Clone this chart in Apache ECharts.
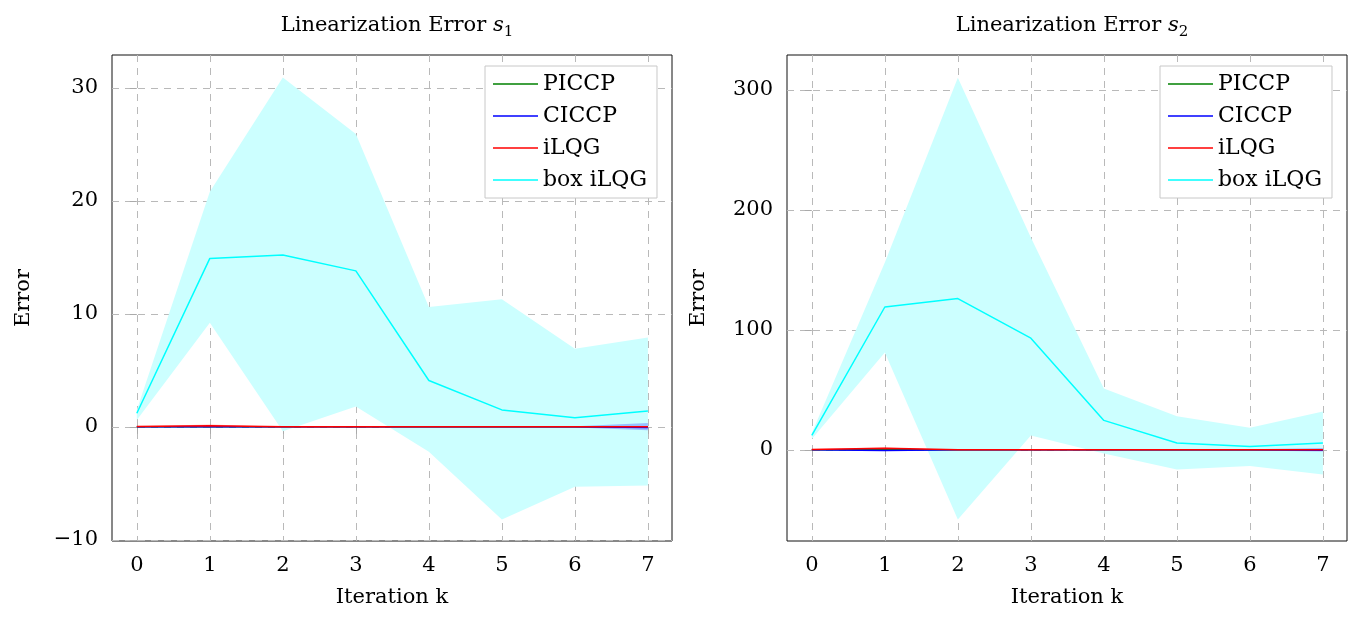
<!DOCTYPE html>
<html>
<head>
<meta charset="utf-8">
<script src="https://cdn.jsdelivr.net/npm/echarts@6/dist/echarts.min.js"></script>
<style>
  html, body { margin: 0; padding: 0; background: #fff; }
  #chart { width: 1354px; height: 617px; }
</style>
</head>
<body>
<div id="chart"></div>
<script>
// iterations
const iterations = [0, 1, 2, 3, 4, 5, 6, 7];
const seriesNames = ['PICCP', 'CICCP', 'iLQG', 'box iLQG'];

// s1 plot
const s1Piccp = [0, 0, 0, 0, 0, 0, 0, 0];
const s1Ciccp = [0, 0, 0, 0, 0, 0, 0, -0.05];
const s1Ilqg = [0.02, 0.1, 0, 0, 0, 0, 0, 0];
const s1Box = [1.2, 14.9, 15.2, 13.8, 4.1, 1.5, 0.8, 1.4];
const s1BoxLower = [0.6, 9.2, -0.4, 1.8, -2.2, -8.2, -5.3, -5.2];
const s1BoxUpper = [1.5, 20.8, 30.9, 25.9, 10.6, 11.3, 6.9, 7.9];
const s1CiccpLower = [0, 0, 0, 0, 0, 0, -0.05, -0.3];
const s1CiccpUpper = [0, 0, 0, 0, 0, 0, 0.05, 0.35];
const s1IlqgLower = [0, 0, 0, 0, 0, 0, 0, 0];
const s1IlqgUpper = [0.05, 0.2, 0, 0, 0, 0, 0, 0];

// s2 plot
const s2Piccp = [0, 0, 0, 0, 0, 0, 0, 0];
const s2Ciccp = [0, -0.5, 0, 0, 0, 0, 0, -0.3];
const s2Ilqg = [0.3, 1.2, 0, 0, 0, 0, 0, 0];
const s2Box = [12, 119, 126, 93, 24.5, 5.6, 2.8, 5.6];
const s2BoxLower = [9, 81, -58, 12, -3, -16.4, -13.4, -20.6];
const s2BoxUpper = [14, 156, 310, 177, 51, 28, 18.4, 32];
const s2CiccpLower = [0, -1, 0, 0, 0, 0, -0.5, -1.5];
const s2CiccpUpper = [0, 0.5, 0, 0, 0, 0, 0.5, 1.5];
const s2IlqgLower = [0, 0, 0, 0, 0, 0, 0, 0];
const s2IlqgUpper = [0.6, 2, 0, 0, 0, 0, 0, 0];

const s1YTicks = [-10, 0, 10, 20, 30];
const s2YTicks = [0, 100, 200, 300];

const colors = { PICCP: '#008000', CICCP: '#0000ff', iLQG: '#ff0000', 'box iLQG': '#00ffff' };
const FONT = 'DejaVu Serif';
const FS = 21;

const chart = echarts.init(document.getElementById('chart'));

const pairs = arr => arr.map((v, i) => [iterations[i], v]);

// shaded min/max band, drawn as one polygon through the axis scales
function band(gridIdx, lower, upper, fill) {
  return {
    name: 'band', type: 'custom', xAxisIndex: gridIdx, yAxisIndex: gridIdx,
    silent: true, z: 1,
    data: iterations.map((x, i) => [x, lower[i], upper[i]]),
    renderItem: function (params, api) {
      if (params.dataIndexInside !== 0) return;
      const n = params.dataInsideLength;
      const top = [], bottom = [];
      for (let i = 0; i < n; i++) {
        top.push(api.coord([api.value(0, i), api.value(2, i)]));
        bottom.unshift(api.coord([api.value(0, i), api.value(1, i)]));
      }
      return {
        type: 'polygon',
        shape: { points: top.concat(bottom) },
        style: { fill: fill }
      };
    }
  };
}

function line(name, gridIdx, values) {
  return {
    name: name, type: 'line', xAxisIndex: gridIdx, yAxisIndex: gridIdx,
    symbol: 'none', data: pairs(values), z: 3,
    lineStyle: { color: colors[name], width: 1.5 },
    itemStyle: { color: colors[name] }
  };
}

const tickFmt = v => (v < 0 ? '\u2212' + Math.abs(v) : String(v));

function xAxis(gridIdx) {
  return {
    type: 'value', gridIndex: gridIdx, min: -0.34, max: 7.33,
    name: 'Iteration k', nameLocation: 'middle', nameGap: 46,
    nameTextStyle: { fontFamily: FONT, fontSize: FS, color: '#000' },
    axisLine: { show: false },
    axisTick: { show: true, length: 7, customValues: iterations, lineStyle: { color: '#aaa' } },
    axisLabel: { customValues: iterations, margin: 14, fontFamily: FONT, fontSize: FS, color: '#000' },
    splitLine: { show: true, lineStyle: { color: '#b9b9b9', type: [7, 6], width: 1 } }
  };
}

function yAxis(gridIdx, min, max, ticks) {
  return {
    type: 'value', gridIndex: gridIdx, min: min, max: max,
    name: 'Error', nameLocation: 'middle', nameGap: 78,
    nameTextStyle: { fontFamily: FONT, fontSize: FS, color: '#000' },
    axisLine: { show: false },
    axisTick: { show: true, length: 7, customValues: ticks, lineStyle: { color: '#aaa' } },
    axisLabel: { customValues: ticks, margin: 14, fontFamily: FONT, fontSize: FS, color: '#000', formatter: tickFmt },
    splitLine: { show: true, lineStyle: { color: '#b9b9b9', type: [7, 6], width: 1 } }
  };
}

function title(sub, centerX) {
  return {
    text: '{n|Linearization Error }{i|s}{sub|' + sub + '}',
    left: centerX, top: 7, textAlign: 'center',
    textStyle: {
      fontWeight: 'normal',
      rich: {
        n: { fontFamily: FONT, fontSize: 21, fontWeight: 'normal', color: '#000', lineHeight: 28 },
        i: { fontFamily: FONT, fontSize: 21, fontWeight: 'normal', fontStyle: 'italic', color: '#000', lineHeight: 28 },
        sub: { fontFamily: FONT, fontSize: 15, fontWeight: 'normal', color: '#000', verticalAlign: 'bottom', lineHeight: 15 }
      }
    }
  };
}

function legend(left) {
  return {
    data: seriesNames, orient: 'vertical', left: left, top: 66,
    icon: 'rect', itemWidth: 45, itemHeight: 1.5, itemGap: 10,
    padding: [7, 10, 7, 8],
    borderColor: '#c8c8c8', borderWidth: 1, backgroundColor: '#fff',
    textStyle: { fontFamily: FONT, fontSize: 22, color: '#000' },
    selectedMode: false
  };
}

const option = {
  animation: false,
  backgroundColor: '#fff',
  title: [title('1', 392), title('2', 1067)],
  legend: [legend(485), legend(1160)],
  grid: [
    { left: 112, top: 55, width: 560, height: 486, show: true, borderColor: '#111', borderWidth: 1, backgroundColor: 'transparent' },
    { left: 787, top: 55, width: 560, height: 486, show: true, borderColor: '#111', borderWidth: 1, backgroundColor: 'transparent' }
  ],
  xAxis: [xAxis(0), xAxis(1)],
  yAxis: [yAxis(0, -10.1, 32.9, s1YTicks), yAxis(1, -76, 329, s2YTicks)],
  series: [
    band(0, s1BoxLower, s1BoxUpper, '#ccffff'),
    band(0, s1CiccpLower, s1CiccpUpper, 'rgba(0,0,255,0.25)'),
    band(0, s1IlqgLower, s1IlqgUpper, 'rgba(255,0,0,0.25)'),
    line('PICCP', 0, s1Piccp),
    line('CICCP', 0, s1Ciccp),
    line('iLQG', 0, s1Ilqg),
    line('box iLQG', 0, s1Box),
    band(1, s2BoxLower, s2BoxUpper, '#ccffff'),
    band(1, s2CiccpLower, s2CiccpUpper, 'rgba(0,0,255,0.25)'),
    band(1, s2IlqgLower, s2IlqgUpper, 'rgba(255,0,0,0.25)'),
    line('PICCP', 1, s2Piccp),
    line('CICCP', 1, s2Ciccp),
    line('iLQG', 1, s2Ilqg),
    line('box iLQG', 1, s2Box)
  ]
};

chart.setOption(option);
</script>
</body>
</html>
